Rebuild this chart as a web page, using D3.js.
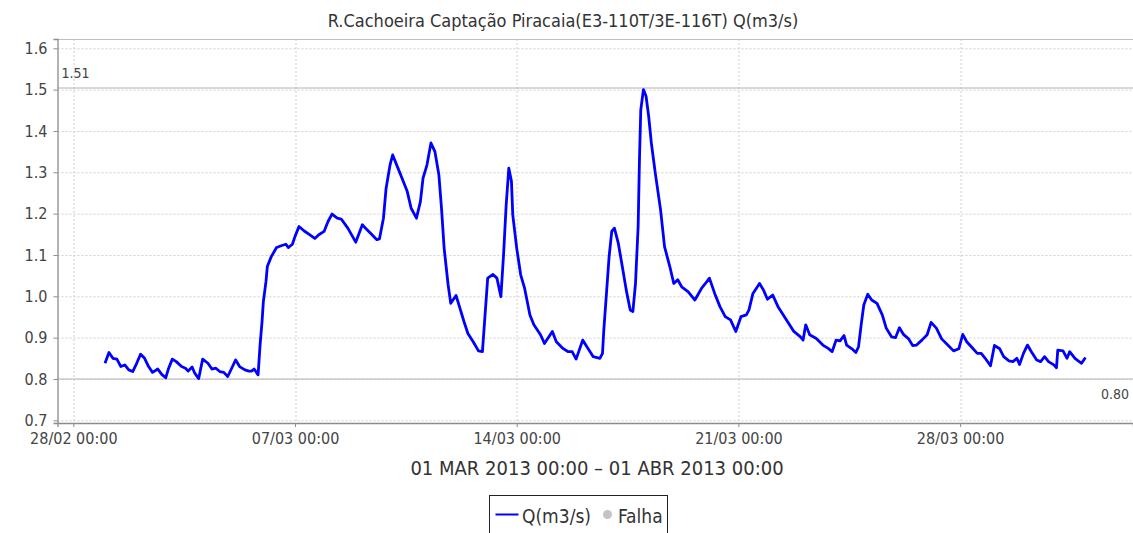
<!DOCTYPE html>
<html>
<head>
<meta charset="utf-8">
<script src="https://cdn.jsdelivr.net/npm/d3@7"></script>
<style>
  body { margin: 0; background: #fff; overflow: hidden; }
  svg { display: block; font-family: "DejaVu Sans Condensed", "DejaVu Sans", sans-serif; }
</style>
</head>
<body>
<svg id="chart" width="1133" height="533"></svg>
<script>
// hours after 01 MAR 2013 00:00
const hours = [0, 3, 6, 9, 12, 15, 18, 21, 24, 27, 30, 33, 36, 40, 43, 46, 48, 51, 54, 58,
  61, 63, 66, 68, 71, 74, 78, 81, 84, 87, 90, 93, 96, 99, 102, 106, 109, 111, 113, 116,
  117.5, 119, 120, 122, 123, 126, 130, 134, 137, 139, 142, 144, 147, 151, 155, 159, 162, 166, 169, 172,
  176, 179, 184, 190, 195, 198, 202, 206, 208, 211, 213, 216, 218, 221, 225, 229, 232, 236, 239, 241,
  244, 247, 250, 253, 255, 257, 260, 262, 266, 269, 272, 275, 279, 283, 286, 288, 290, 294, 297, 300,
  302, 304, 306, 308, 309, 312, 315, 318, 322, 325, 330, 333, 339, 342, 347, 351, 354, 357, 362, 366,
  370, 375, 377, 378, 380, 382, 384, 386, 389, 392, 395, 398, 400, 402, 404, 405, 406, 408, 410, 412,
  414, 417, 421, 424, 428, 431, 434, 437, 442, 447, 452, 455, 458, 462, 466, 470, 474, 478, 482, 486,
  488, 491, 496, 499, 502, 506, 510, 514, 518, 522, 527, 529, 531, 534, 539, 544, 548, 551, 554, 557,
  560, 562, 566, 569, 571, 573, 575, 578, 581, 585, 589, 592, 596, 599, 602, 605, 609, 612, 615, 619,
  623, 626, 630, 634, 639, 643, 647, 650, 653, 657, 661, 664, 667, 671, 674, 678, 681, 685, 688, 691,
  693, 696, 699, 702, 706, 709, 712, 715, 719, 721, 722, 726, 729, 731, 735, 740, 743];
const flow = [0.838, 0.864, 0.850, 0.848, 0.830, 0.834, 0.822, 0.818, 0.838, 0.860, 0.850, 0.830, 0.816, 0.824, 0.811, 0.803, 0.824, 0.848, 0.842, 0.830,
  0.826, 0.819, 0.829, 0.814, 0.801, 0.848, 0.838, 0.824, 0.826, 0.818, 0.816, 0.806, 0.826, 0.846, 0.830, 0.822, 0.819, 0.819, 0.824, 0.810,
  0.882, 0.939, 0.987, 1.036, 1.072, 1.096, 1.118, 1.123, 1.126, 1.118, 1.126, 1.145, 1.169, 1.158, 1.149, 1.140, 1.149, 1.157, 1.181, 1.199,
  1.189, 1.187, 1.165, 1.131, 1.173, 1.163, 1.150, 1.137, 1.139, 1.189, 1.261, 1.318, 1.342, 1.318, 1.286, 1.254, 1.213, 1.189, 1.229, 1.286,
  1.318, 1.371, 1.350, 1.294, 1.213, 1.116, 1.028, 0.983, 1.002, 0.971, 0.939, 0.910, 0.890, 0.868, 0.866, 0.955, 1.044, 1.053, 1.044, 0.999,
  1.100, 1.221, 1.310, 1.278, 1.197, 1.116, 1.052, 1.019, 0.955, 0.931, 0.907, 0.886, 0.915, 0.890, 0.874, 0.866, 0.866, 0.848, 0.894, 0.874,
  0.854, 0.850, 0.862, 0.919, 1.007, 1.096, 1.157, 1.165, 1.128, 1.072, 1.015, 0.967, 0.963, 1.031, 1.169, 1.330, 1.451, 1.500, 1.484, 1.435,
  1.371, 1.298, 1.209, 1.120, 1.072, 1.031, 1.040, 1.023, 1.011, 0.991, 1.019, 1.031, 1.044, 1.007, 0.975, 0.951, 0.943, 0.915, 0.951, 0.955,
  0.967, 1.007, 1.031, 1.015, 0.993, 1.003, 0.975, 0.955, 0.935, 0.915, 0.902, 0.894, 0.931, 0.907, 0.898, 0.882, 0.874, 0.866, 0.894, 0.892,
  0.905, 0.882, 0.873, 0.864, 0.878, 0.931, 0.979, 1.005, 0.991, 0.983, 0.955, 0.923, 0.902, 0.900, 0.924, 0.908, 0.897, 0.881, 0.882, 0.894,
  0.907, 0.937, 0.923, 0.897, 0.881, 0.868, 0.873, 0.908, 0.890, 0.876, 0.862, 0.862, 0.850, 0.832, 0.881, 0.873, 0.854, 0.844, 0.842, 0.850,
  0.835, 0.862, 0.882, 0.866, 0.846, 0.842, 0.854, 0.842, 0.834, 0.827, 0.870, 0.868, 0.850, 0.866, 0.850, 0.838, 0.852];

const yTicks = [0.7, 0.8, 0.9, 1.0, 1.1, 1.2, 1.3, 1.4, 1.5, 1.6];
const xTickDates = ["2013-02-28", "2013-03-07", "2013-03-14", "2013-03-21", "2013-03-28"];
const refValues = [1.504, 0.80];
const refLabels = ["1.51", "0.80"];

const title = "R.Cachoeira Captação Piracaia(E3-110T/3E-116T) Q(m3/s)";
const subtitle = "01 MAR 2013 00:00 – 01 ABR 2013 00:00";
const legendItems = ["Q(m3/s)", "Falha"];

const svg = d3.select('#chart');
const width = 1133, height = 533;
const margin = { top: 39, right: 0, bottom: 110, left: 57.5 };
const innerWidth = width - margin.left - margin.right;
const innerHeight = height - margin.top - margin.bottom;

const start = Date.UTC(2013, 2, 1);
const data = hours.map((h, i) => ({ t: new Date(start + h * 3600e3), v: flow[i] }));

const xScale = d3.scaleUtc()
  .domain([new Date(Date.UTC(2013, 1, 27, 12)), new Date(Date.UTC(2013, 3, 2, 11))])
  .range([0, innerWidth]);
const yScale = d3.scaleLinear()
  .domain([0.6935, 1.6225])
  .range([innerHeight, 0]);

const g = svg.append('g').attr('transform', `translate(${margin.left},${margin.top})`);

// grid
const tickDates = xTickDates.map(s => new Date(s + "T00:00:00Z"));
g.append('g').selectAll('line')
  .data(yTicks).join('line')
  .attr('x1', 0).attr('x2', innerWidth)
  .attr('y1', d => yScale(d) + 0.5).attr('y2', d => yScale(d) + 0.5)
  .attr('stroke', '#cfcfcf').attr('stroke-dasharray', '2,2');
g.append('g').selectAll('line')
  .data(tickDates).join('line')
  .attr('x1', d => Math.round(xScale(d)) + 0.5).attr('x2', d => Math.round(xScale(d)) + 0.5)
  .attr('y1', 0).attr('y2', innerHeight)
  .attr('stroke', '#cfcfcf').attr('stroke-dasharray', '2,2');

// reference lines (max / min)
g.append('g').selectAll('line')
  .data(refValues).join('line')
  .attr('x1', 0).attr('x2', innerWidth)
  .attr('y1', d => yScale(d)).attr('y2', d => yScale(d))
  .attr('stroke', '#b4b4b4').attr('stroke-width', 1.2);
g.append('text')
  .attr('x', 4).attr('y', yScale(refValues[0]) - 10)
  .attr('font-size', 14).attr('fill', '#444')
  .text(refLabels[0]);
g.append('text')
  .attr('x', innerWidth - 4).attr('y', yScale(refValues[1]) + 20)
  .attr('text-anchor', 'end')
  .attr('font-size', 14).attr('fill', '#444')
  .text(refLabels[1]);

// top border
g.append('line')
  .attr('x1', 0).attr('x2', innerWidth).attr('y1', 0.5).attr('y2', 0.5)
  .attr('stroke', '#bdbdbd');

// series
g.append('path')
  .datum(data)
  .attr('fill', 'none')
  .attr('stroke', '#0000ff')
  .attr('stroke-width', 2.8)
  .attr('stroke-linejoin', 'round')
  .attr('d', d3.line().x(d => xScale(d.t)).y(d => yScale(d.v)));

// axes
const yAxis = d3.axisLeft(yScale).tickValues(yTicks).tickFormat(d3.format('.1f')).tickSize(4).tickPadding(6);
const ya = g.append('g').call(yAxis);
const xAxis = d3.axisBottom(xScale).tickValues(tickDates).tickFormat(d3.utcFormat('%d/%m %H:%M')).tickSize(4).tickPadding(6);
const xa = g.append('g').attr('transform', `translate(0,${innerHeight})`).call(xAxis);
[ya, xa].forEach(a => {
  a.select('.domain').attr('stroke', '#8c8c8c').attr('stroke-width', 1.3);
  a.selectAll('.tick line').attr('stroke', '#8c8c8c');
  a.selectAll('text').attr('font-family', '"DejaVu Sans Condensed", sans-serif').attr('font-size', 16).attr('fill', '#444');
});

// titles
svg.append('text')
  .attr('x', 563).attr('y', 27)
  .attr('text-anchor', 'middle').attr('font-size', 18).attr('fill', '#333')
  .text(title);
svg.append('text')
  .attr('x', 597).attr('y', 475)
  .attr('text-anchor', 'middle').attr('font-size', 20).attr('fill', '#333')
  .text(subtitle);

// legend
const lg = svg.append('g').attr('transform', 'translate(489.5,495.5)');
lg.append('rect').attr('width', 178).attr('height', 40).attr('fill', '#fff').attr('stroke', '#222');
lg.append('line').attr('x1', 6).attr('x2', 29).attr('y1', 19).attr('y2', 19).attr('stroke', '#0000ff').attr('stroke-width', 2);
lg.append('text').attr('x', 32.5).attr('y', 27).attr('font-size', 19).attr('fill', '#333').text(legendItems[0]);
lg.append('circle').attr('cx', 118).attr('cy', 19).attr('r', 4.5).attr('fill', '#c4c4c4');
lg.append('text').attr('x', 128.5).attr('y', 27).attr('font-size', 19).attr('fill', '#333').text(legendItems[1]);
</script>
</body>
</html>
